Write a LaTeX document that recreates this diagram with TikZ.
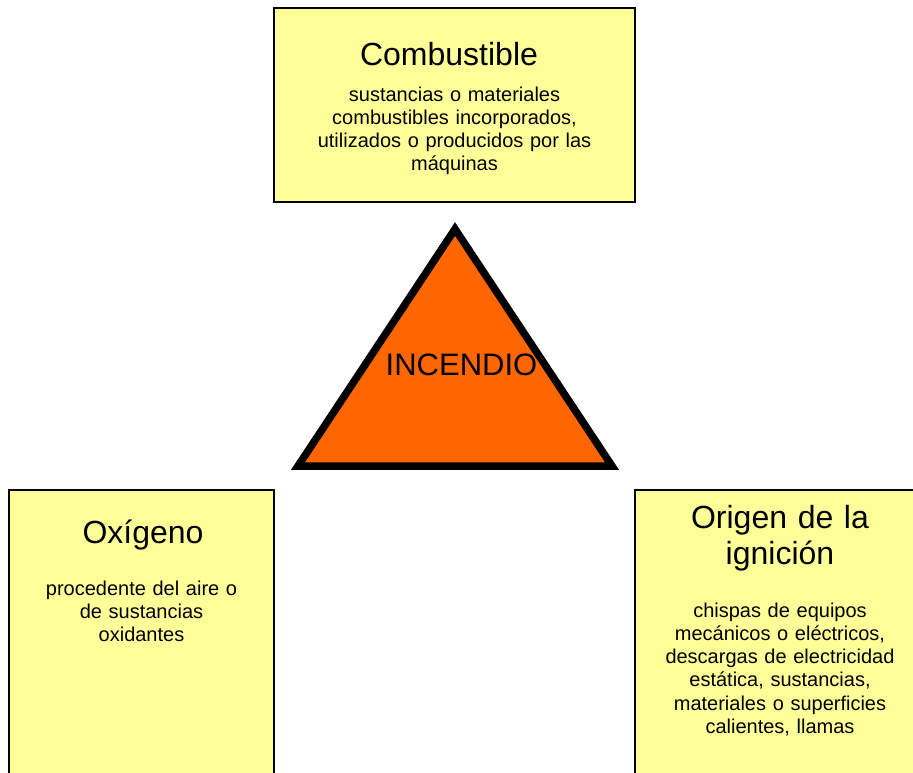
\documentclass[tikz,border=0pt]{standalone}
\usepackage{fontspec}
\setmainfont{Liberation Sans}
\definecolor{boxyellow}{HTML}{FFFF99}
\definecolor{fireorange}{HTML}{FF6600}
\tikzset{
    panel/.style={draw=black, line width=1.2pt, fill=boxyellow, inner sep=0pt},
    title/.style={anchor=base, align=center, inner sep=0pt, font=\fontsize{32}{36.5}\selectfont},
    body/.style={anchor=base, align=center, inner sep=0pt, text width=280pt, font=\fontsize{20}{23.3}\selectfont}
}
\begin{document}
\begin{tikzpicture}[x=1pt, y=-1pt]
        \useasboundingbox (0,0) rectangle (913,772);
        \clip (0,0) rectangle (913,772);

        % the three yellow panels
        \node[panel, minimum width=361pt, minimum height=194pt] (fuel) at (454.5,105) {};
        \node[panel, minimum width=265pt, minimum height=320pt] (oxygen) at (141.5,650) {};
        \node[panel, minimum width=320pt, minimum height=320pt] (spark) at (795,650) {};

        \node[title] (fueltitle) at (449,65) {Combustible};
        \node[body] (fueltext) at (454.5,101) {sustancias o materiales\\ combustibles incorporados,\\ utilizados o producidos por las\\ máquinas};

        \node[title] (oxygentitle) at (143,543) {Oxígeno};
        \node[body, text width=240pt] (oxygentext) at (141.5,595) {procedente del aire o\\ de sustancias\\ oxidantes};

        \node[title, text width=280pt] (sparktitle) at (780,528) {Origen de la\\ ignición};
        \node[body, text width=270pt] (sparktext) at (780,617) {chispas de equipos\\ mecánicos o eléctricos,\\ descargas de electricidad\\ estática, sustancias,\\ materiales o superficies\\ calientes, llamas};

        % fire triangle
        \coordinate (top) at (455,229);
        \coordinate (left) at (298,466);
        \coordinate (right) at (612,466);
        \draw[line width=7.5pt, fill=fireorange] (top) -- (right) -- (left) -- cycle;
        \node[anchor=base, inner sep=0pt, font=\fontsize{31}{36}\selectfont] (fire) at (461.5,375) {INCENDIO};
\end{tikzpicture}
\end{document}
